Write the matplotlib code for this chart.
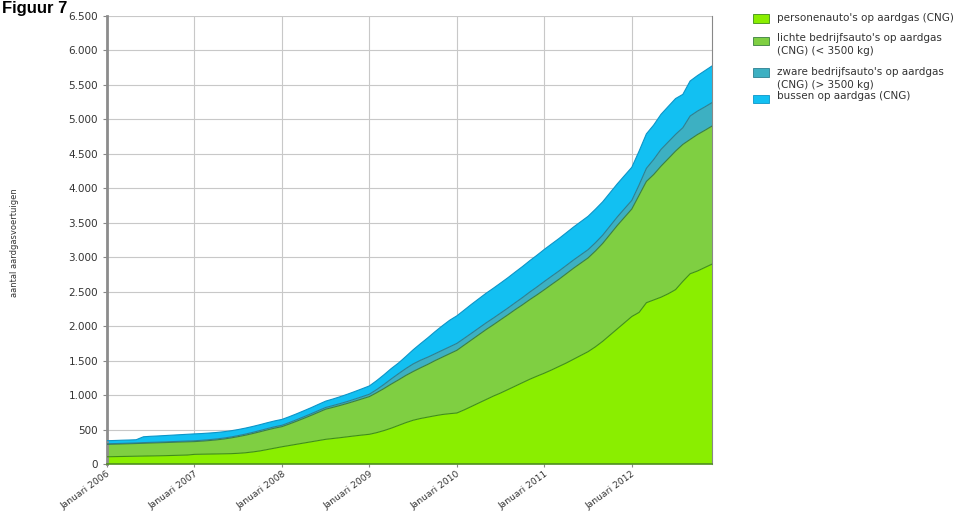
import matplotlib
matplotlib.use("Agg")
import matplotlib.pyplot as plt
import numpy as np
from matplotlib.patches import Rectangle
from matplotlib.ticker import FuncFormatter

plt.rcParams['font.family'] = ['DejaVu Sans']

# Monthly data, Januari 2006 .. December 2012
years = [2006, 2007, 2008, 2009, 2010, 2011, 2012]
tick_labels = ["Januari %d" % y for y in years]

personen = [105, 107, 109, 111, 113, 115, 117, 119, 121, 124, 127, 130,
            140, 142, 144, 146, 148, 150, 155, 163, 175, 190, 210, 230,
            250, 268, 286, 304, 322, 340, 358, 370, 382, 395, 408, 420,
            431, 455, 485, 520, 560, 600, 635, 660, 680, 700, 718, 730,
            740, 785, 835, 885, 935, 985, 1030, 1080, 1130, 1180, 1230, 1275,
            1318, 1365, 1415, 1465, 1520, 1575, 1630, 1700, 1780, 1870, 1960, 2050,
            2140, 2200, 2340, 2380, 2420, 2470, 2530, 2650, 2760, 2800, 2850, 2900]

lichte = [180, 181, 182, 183, 184, 186, 188, 189, 190, 191, 192, 192,
          185, 190, 196, 204, 214, 228, 242, 255, 267, 278, 285, 290,
          292, 312, 334, 358, 383, 410, 437, 452, 468, 485, 504, 525,
          547, 580, 610, 640, 661, 685, 707, 735, 765, 800, 832, 870,
          910, 940, 965, 990, 1015, 1035, 1063, 1085, 1110, 1130, 1155, 1180,
          1211, 1240, 1265, 1295, 1320, 1340, 1360, 1390, 1420, 1460, 1500, 1530,
          1560, 1700, 1760, 1820, 1901, 1960, 2010, 1987, 1949, 1980, 1990, 2003]

zware = [8, 8, 8, 8, 8, 9, 9, 9, 10, 10, 10, 11,
         12, 12, 13, 13, 14, 14, 15, 16, 17, 18, 19, 20,
         20, 21, 22, 23, 24, 25, 25, 26, 27, 28, 30, 32,
         35, 45, 60, 75, 90, 100, 110, 110, 105, 100, 100, 100,
         100, 98, 97, 97, 97, 97, 97, 98, 100, 105, 110, 115,
         120, 120, 120, 120, 120, 120, 120, 120, 120, 122, 124, 125,
         125, 150, 190, 218, 243, 243, 242, 242, 340, 340, 340, 340]

bussen = [45, 45, 46, 46, 47, 85, 88, 90, 92, 94, 96, 98,
          100, 98, 96, 94, 92, 90, 88, 87, 86, 85, 85, 85,
          85, 85, 86, 87, 88, 90, 92, 95, 100, 105, 110, 115,
          120, 130, 140, 150, 155, 175, 205, 240, 280, 320, 355, 385,
          400, 410, 420, 425, 430, 433, 436, 440, 445, 450, 455, 460,
          465, 468, 471, 474, 478, 481, 484, 486, 484, 482, 480, 480,
          480, 490, 500, 500, 509, 515, 520, 484, 508, 515, 525, 532]

labels = ["personenauto's op aardgas (CNG)",
          "lichte bedrijfsauto's op aardgas\n(CNG) (< 3500 kg)",
          "zware bedrijfsauto's op aardgas\n(CNG) (> 3500 kg)",
          "bussen op aardgas (CNG)"]
colors = ["#8AEE00", "#7FCF42", "#3DB0C2", "#12C0F2"]
edges = ["#3F8F18", "#3A7F40", "#2C7F90", "#0C95C8"]

W, H = 962, 516
fig = plt.figure(figsize=(W / 100, H / 100), dpi=100)
ax = fig.add_axes([107 / W, 1 - 464 / H, (712 - 107) / W, (464 - 16) / H])

x = np.arange(len(personen))
series = [personen, lichte, zware, bussen]
ax.stackplot(x, *series, colors=colors, zorder=2)
cum = np.zeros(len(x))
for s, ec in zip(series, edges):
    cum = cum + np.array(s)
    ax.plot(x, cum, color=ec, lw=0.8, zorder=3)

ax.set_xlim(0, len(x) - 1)
ax.set_ylim(0, 6500)
ax.set_yticks(np.arange(0, 6501, 500))
ax.yaxis.set_major_formatter(FuncFormatter(lambda v, p: "{:,}".format(int(v)).replace(",", ".")))
ax.set_xticks(np.arange(0, len(x), 12))
ax.set_xticklabels(tick_labels, rotation=36, ha='right', rotation_mode='anchor')

ax.grid(True, color="#c8c8c8", lw=0.8, zorder=0)
ax.set_axisbelow(True)
ax.spines['top'].set_visible(False)
ax.spines['right'].set_color('#888888')
ax.spines['right'].set_linewidth(0.8)
ax.spines['left'].set_color('#8c8c8c')
ax.spines['left'].set_linewidth(2)
ax.spines['bottom'].set_color('#4f8f20')
ax.spines['bottom'].set_linewidth(1.2)
ax.tick_params(axis='y', labelsize=7.5, colors='#333333', length=3, color='#888888')
ax.tick_params(axis='x', labelsize=6.6, colors='#333333', length=2, color='#888888', pad=2)

fig.text(15 / W, 1 - 243 / H, "aantal aardgasvoertuigen", rotation=90, fontsize=6,
         ha='center', va='center', color='#333333')
fig.text(2 / W, 1 - 1 / H, "Figuur 7", fontsize=12, fontweight='bold', ha='left', va='top',
         family=['Liberation Sans', 'DejaVu Sans'])

# legend (patch top/bottom in px, first-line centre in px)
patch_y = [(14, 23), (37, 45), (68, 77), (95, 103)]
text_y = [19, 39, 73, 97]
for (y0, y1), ty, c, e, lab in zip(patch_y, text_y, colors, edges, labels):
    fig.patches.append(Rectangle((753 / W, 1 - y1 / H), 16 / W, (y1 - y0) / H,
                                 facecolor=c, edgecolor=e, lw=0.6,
                                 transform=fig.transFigure, figure=fig))
    fig.text(777 / W, 1 - (ty - 5.8) / H, lab, fontsize=7.5, ha='left', va='top',
             color='#333333', linespacing=1.3)

fig.savefig("out.png", dpi=100)
